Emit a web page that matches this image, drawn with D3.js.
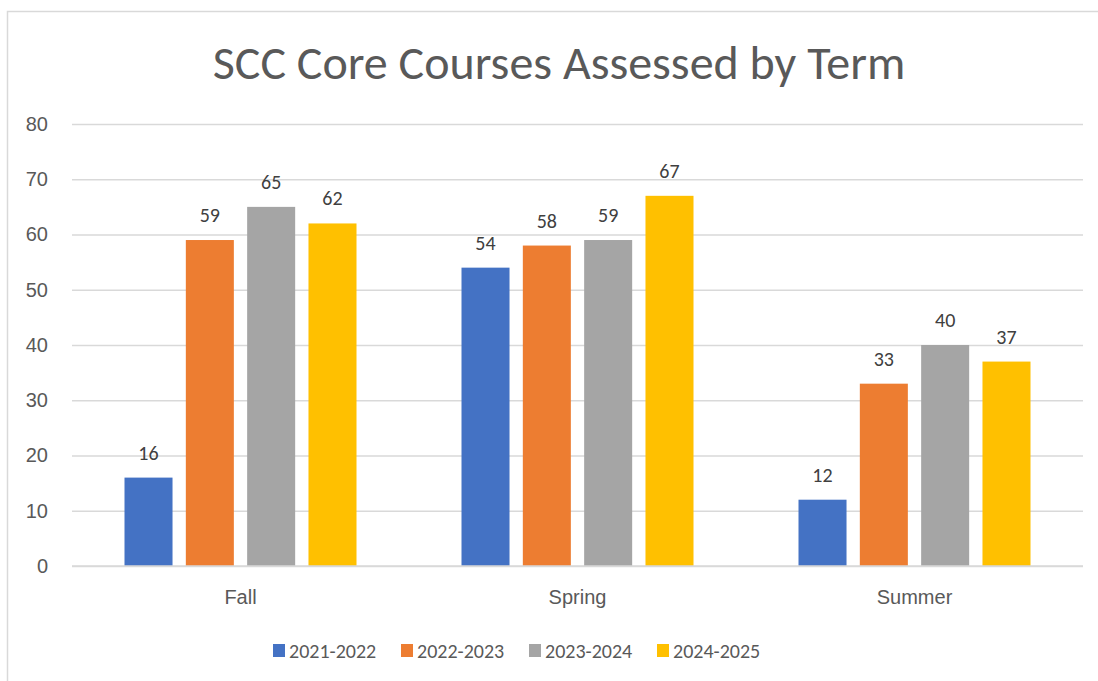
<!DOCTYPE html>
<html>
<head>
<meta charset="utf-8">
<script src="https://cdn.jsdelivr.net/npm/d3@7"></script>
<style>
    html, body { margin: 0; padding: 0; background: #fff; }
    svg { display: block; font-family: Calibri, Carlito, 'Open Sans', sans-serif; }
</style>
</head>
<body>
<svg id="chart" width="1098" height="681"></svg>
<script>
(function (d3) {
    'use strict';

    var terms   = ['Fall', 'Spring', 'Summer'];
    var years   = ['2021-2022', '2022-2023', '2023-2024', '2024-2025'];
    var colours = ['#4472C4', '#ED7D31', '#A5A5A5', '#FFC000'];
    var counts  = {
        '2021-2022': [16, 54, 12],
        '2022-2023': [59, 58, 33],
        '2023-2024': [65, 59, 40],
        '2024-2025': [62, 67, 37]
    };
    var yTicks  = [0, 10, 20, 30, 40, 50, 60, 70, 80];

    var svg = d3.select('#chart');
    var plot = { left: 72, right: 1083, top: 124, bottom: 566 };

    // chart frame, only the left and top edges show in the picture
    svg.append('rect')
        .attr('x', 7.5).attr('y', 11.5)
        .attr('width', 1200).attr('height', 800)
        .attr('fill', 'none').attr('stroke', '#D9D9D9').attr('stroke-width', 1.5);

    svg.append('text')
        .attr('x', 559).attr('y', 79)
        .attr('text-anchor', 'middle')
        .attr('font-size', 48)
        .attr('fill', '#595959')
        .text('SCC Core Courses Assessed by Term');

    var x = d3.scaleBand().domain(terms).range([plot.left, plot.right]);
    var xInner = d3.scaleBand().domain(years)
        .range([52.5, x.bandwidth() - 52.5])
        .paddingInner(0.217);
    var y = d3.scaleLinear().domain([0, 80]).range([plot.bottom, plot.top]);

    // gridlines + y labels
    var yAxis = d3.axisLeft(y).tickValues(yTicks)
        .tickSize(-(plot.right - plot.left)).tickPadding(24);
    var gy = svg.append('g').attr('transform', 'translate(' + plot.left + ',0)').call(yAxis);
    gy.select('.domain').remove();
    gy.selectAll('.tick line').attr('stroke', '#D9D9D9').attr('stroke-width', 1.5);
    gy.selectAll('.tick text')
        .attr('font-size', 20).attr('fill', '#595959')
        .style('font-family', 'inherit');

    // category labels
    var xAxis = d3.axisBottom(x).tickSize(0).tickPadding(24);
    var gx = svg.append('g').attr('transform', 'translate(0,' + plot.bottom + ')').call(xAxis);
    gx.select('.domain').remove();
    gx.selectAll('.tick text')
        .attr('font-size', 20).attr('fill', '#595959')
        .style('font-family', 'inherit');

    var rows = [];
    years.forEach(function (yr, si) {
        terms.forEach(function (t, ci) {
            rows.push({ term: t, year: yr, value: counts[yr][ci], colour: colours[si] });
        });
    });

    svg.append('g').selectAll('rect').data(rows).enter().append('rect')
        .attr('x', function (d) { return x(d.term) + xInner(d.year); })
        .attr('y', function (d) { return y(d.value); })
        .attr('width', xInner.bandwidth())
        .attr('height', function (d) { return y(0) - y(d.value); })
        .attr('fill', function (d) { return d.colour; });

    // zero line drawn over the bars' bottoms
    svg.append('line')
        .attr('x1', plot.left).attr('x2', plot.right)
        .attr('y1', y(0)).attr('y2', y(0))
        .attr('stroke', '#D9D9D9').attr('stroke-width', 1.5);

    svg.append('g').selectAll('text').data(rows).enter().append('text')
        .attr('x', function (d) { return x(d.term) + xInner(d.year) + xInner.bandwidth() / 2; })
        .attr('y', function (d) { return y(d.value) - 18; })
        .attr('text-anchor', 'middle')
        .attr('font-size', 20)
        .attr('fill', '#404040')
        .text(function (d) { return d.value; });

    // legend
    var legend = svg.append('g').selectAll('g').data(years).enter().append('g')
        .attr('transform', function (d, i) { return 'translate(' + (273 + i * 128) + ',644)'; });
    legend.append('rect')
        .attr('width', 12).attr('height', 13)
        .attr('fill', function (d, i) { return colours[i]; });
    legend.append('text')
        .attr('x', 16).attr('y', 14)
        .attr('font-size', 20).attr('fill', '#595959')
        .text(String);
}(window.d3));
</script>
</body>
</html>
